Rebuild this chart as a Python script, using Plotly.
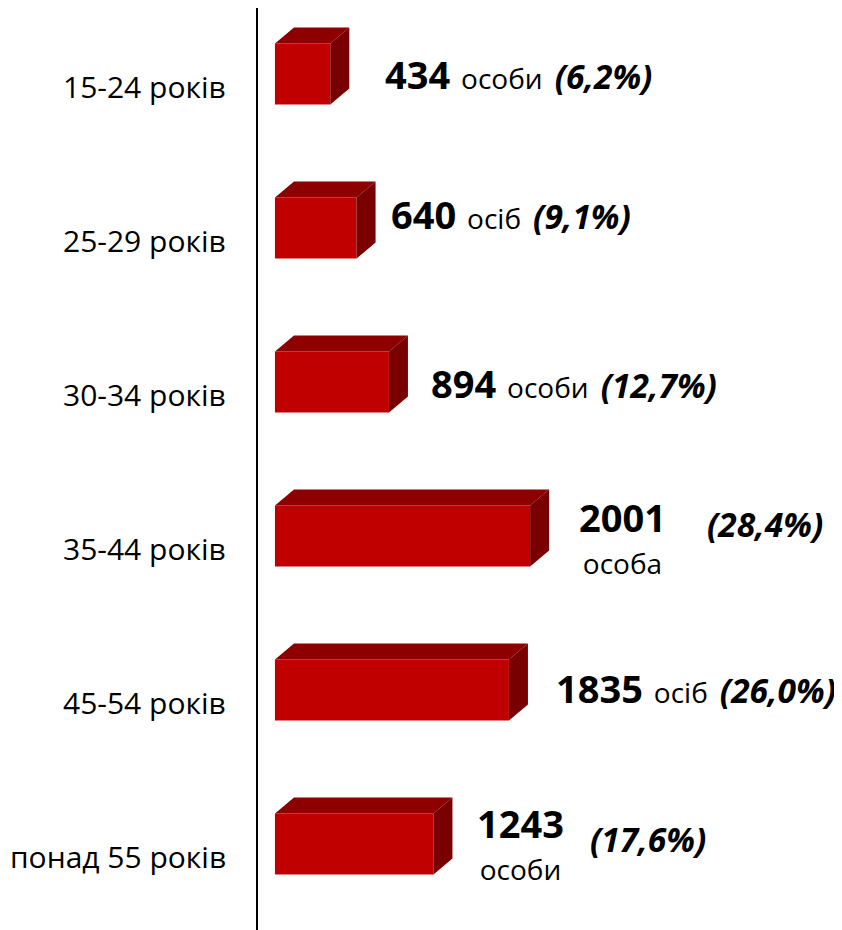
import plotly.graph_objects as go

# ---- data ----
categories = ["15-24 років", "25-29 років", "30-34 років", "35-44 років", "45-54 років", "понад 55 років"]
values = [434, 640, 894, 2001, 1835, 1243]
units = ["особи", "осіб", "особи", "особа", "осіб", "особи"]
shares = ["6,2%", "9,1%", "12,7%", "28,4%", "26,0%", "17,6%"]

# ---- label layout (pixel offsets of the data labels, as placed in the original) ----
wrapped = [False, False, False, True, False, True]
label_dx = [53, 32, 40, 47, 45, 42]
label_dy = [3, 17, 2, 0, 5, 2]          # yshift (px, positive = up)
pct_dx = [0, 0, 0, 175, 0, 155]
pct_dy = [0, 0, 0, 12, 0, 5]

# ---- styling / geometry ----
FRONT = "#C00000"
TOP = "#8E0000"
SIDE = "#780000"
BAR_H = 0.396          # bar thickness in row units
DEPTH_X = 149          # 3D depth in value units
DEPTH_Y = 0.104        # 3D depth in row units
FONT = "Open Sans"

ypos = list(range(len(categories)))

fig = go.Figure()

# front faces
fig.add_trace(go.Bar(
    x=values, y=ypos, orientation="h", width=BAR_H,
    marker=dict(color=FRONT, line=dict(width=0)),
    hoverinfo="skip", showlegend=False,
))

# top and side faces (derived from values)
for v, y in zip(values, ypos):
    yt = y - BAR_H / 2
    yb = y + BAR_H / 2
    fig.add_trace(go.Scatter(
        x=[0, v, v + DEPTH_X, DEPTH_X, 0],
        y=[yt, yt, yt - DEPTH_Y, yt - DEPTH_Y, yt],
        fill="toself", fillcolor=TOP, line=dict(width=0, color=TOP),
        mode="lines", hoverinfo="skip", showlegend=False,
    ))
    fig.add_trace(go.Scatter(
        x=[v, v + DEPTH_X, v + DEPTH_X, v, v],
        y=[yt, yt - DEPTH_Y, yb - DEPTH_Y, yb, yt],
        fill="toself", fillcolor=SIDE, line=dict(width=0, color=SIDE),
        mode="lines", hoverinfo="skip", showlegend=False,
    ))

annotations = []
for i, (cat, v, u, s) in enumerate(zip(categories, values, units, shares)):
    # category label
    annotations.append(dict(
        xref="paper", yref="y", x=0, y=i + 0.078, xanchor="right", yanchor="middle",
        xshift=-30, text=cat, showarrow=False,
        font=dict(family=FONT, size=30, color="#000000"),
    ))
    if not wrapped[i]:
        text = (f"<span style='font-size:38px'><b>{v}</b></span>"
                f"<span style='font-size:42px'> </span>"
                f"<span style='font-size:28px'>{u}</span>"
                f"<span style='font-size:46px'> </span>"
                f"<span style='font-size:33.5px'><b><i>({s})</i></b></span>")
        annotations.append(dict(
            xref="x", yref="y", x=v, y=i, xanchor="left", yanchor="middle",
            xshift=label_dx[i], yshift=label_dy[i], text=text,
            showarrow=False, font=dict(family=FONT, size=28, color="#000000"),
        ))
    else:
        annotations.append(dict(
            xref="x", yref="y", x=v, y=i, xanchor="left", yanchor="middle",
            xshift=label_dx[i], yshift=label_dy[i],
            text=f"<span style='font-size:38px'><b>{v}</b></span><br>"
                 f"<span style='font-size:28px'>{u}</span>",
            align="center", showarrow=False,
            font=dict(family=FONT, size=32, color="#000000"),
        ))
        annotations.append(dict(
            xref="x", yref="y", x=v, y=i, xanchor="left", yanchor="middle",
            xshift=pct_dx[i], yshift=pct_dy[i],
            text=f"<b><i>({s})</i></b>",
            showarrow=False, font=dict(family=FONT, size=33.5, color="#000000"),
        ))

fig.update_layout(
    width=834, height=922,
    margin=dict(l=250, r=0, t=0, b=0),
    paper_bgcolor="white", plot_bgcolor="white",
    showlegend=False,
    xaxis=dict(range=[-133, 4447], showgrid=False, zeroline=False,
               showticklabels=False, ticks="", showline=False, fixedrange=True),
    yaxis=dict(range=[5.558, -0.4286], showgrid=False, zeroline=False,
               showticklabels=False, ticks="", showline=True,
               linecolor="#000000", linewidth=2, fixedrange=True),
    annotations=annotations,
)

fig.write_html("out.html")
